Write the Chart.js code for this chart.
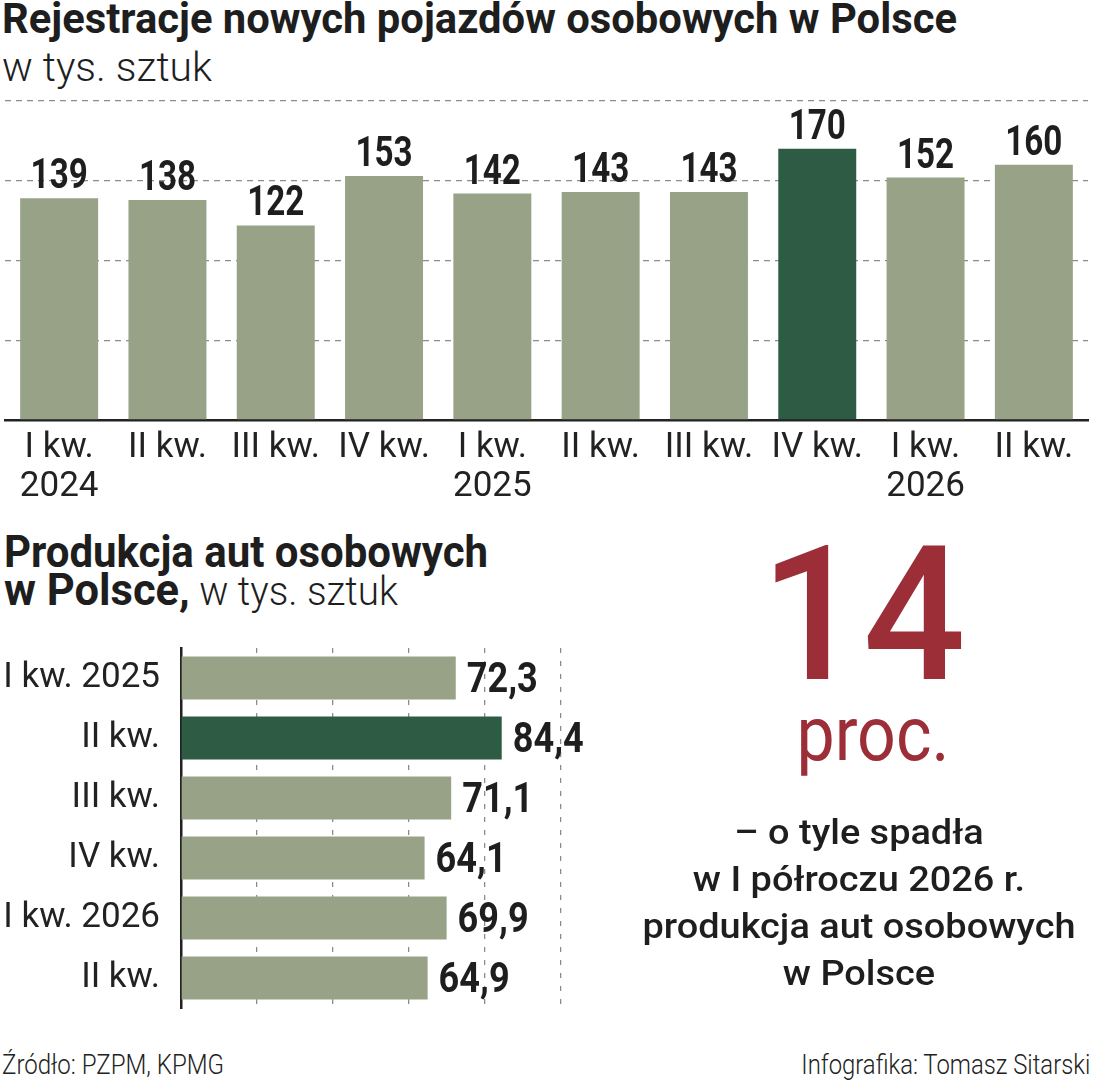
<!DOCTYPE html>
<html lang="pl">
<head>
<meta charset="utf-8">
<title>Rejestracje i produkcja aut osobowych w Polsce</title>
<script src="https://cdn.jsdelivr.net/npm/chart.js@4.4.1/dist/chart.umd.min.js"></script>
<style>
  html, body { margin: 0; padding: 0; background: #fff; }
  body { width: 1094px; height: 1080px; position: relative; overflow: hidden;
         font-family: Roboto, "Noto Sans", sans-serif; color: #1e1e1e; }
  .t { position: absolute; white-space: nowrap; line-height: 1; }
  .fitL { transform-origin: left top; }
  .fitR { transform-origin: right top; }
  #title { left: 2px; top: -2px; font-size: 42px; font-weight: 700; }
  #sub { left: 2px; top: 48px; font-size: 40px; font-weight: 300; }
  #prod1 { left: 4px; top: 529px; font-size: 45px; font-weight: 700; }
  #prod2 { left: 4px; top: 567px; font-size: 45px; font-weight: 700; }
  #prod2 .light { font-size: 40px; font-weight: 300; }
  #big { left: 863px; top: 522px; font-size: 187px; font-weight: 500; color: #9c2e37; }
  #proc { left: 873px; top: 696px; font-size: 76px; font-weight: 400; color: #9c2e37; }
  #note { position: absolute; left: 559px; top: 809px; width: 600px; text-align: center;
          font-size: 35px; font-weight: 500; line-height: 47px; transform-origin: 300px 0; }
  #note span { display: inline-block; white-space: nowrap; }
  #src { left: 2px; top: 1051px; font-size: 28px; font-weight: 300; color: #222; }
  #author { right: 4px; top: 1051px; font-size: 28px; font-weight: 300; color: #222; }
  #regBox { position: absolute; left: 0; top: 90px; }
  #prodBox { position: absolute; left: 0; top: 640px; }
</style>
</head>
<body>
<div class="t fitL" id="title">Rejestracje nowych pojazdów osobowych w Polsce</div>
<div class="t fitL" id="sub">w tys. sztuk</div>

<div id="regBox"><canvas id="regChart" width="1094" height="420"></canvas></div>

<div class="t fitL" id="prod1">Produkcja aut osobowych</div>
<div class="t fitL" id="prod2">w Polsce,<span class="light"> w tys. sztuk</span></div>

<div id="prodBox"><canvas id="prodChart" width="620" height="380"></canvas></div>

<div class="t" id="big">14</div>
<div class="t" id="proc">proc.</div>
<div id="note">
  <span>– o tyle spadła</span><br>
  <span>w I półroczu 2026 r.</span><br>
  <span id="longLine">produkcja aut osobowych</span><br>
  <span>w Polsce</span>
</div>

<div class="t fitL" id="src">Źródło: PZPM, KPMG</div>
<div class="t fitR" id="author">Infografika: Tomasz Sitarski</div>

<script>
// rejestracje, w tys. sztuk
const regLabels = [['I kw.', '2024'], 'II kw.', 'III kw.', 'IV kw.', ['I kw.', '2025'], 'II kw.', 'III kw.', 'IV kw.', ['I kw.', '2026'], 'II kw.'];
const regValues = [139, 138, 122, 153, 142, 143, 143, 170, 152, 160];
const regHighlight = 7;
const regTicks = [0, 50, 100, 150, 200];

// produkcja, w tys. sztuk
const prodLabels = ['I kw. 2025', 'II kw.', 'III kw.', 'IV kw.', 'I kw. 2026', 'II kw.'];
const prodValues = [72.3, 84.4, 71.1, 64.1, 69.9, 64.9];
const prodHighlight = 1;
const prodTicks = [0, 20, 40, 60, 80, 100];

const LIGHT = '#97a287';
const DARK = '#2d5b43';
const INK = '#1e1e1e';
const GRID = '#8c8c8c';

// value labels above / next to bars (narrowed bold digits)
const valueLabels = {
  id: 'valueLabels',
  afterDatasetsDraw(chart, args, opts) {
    const ctx = chart.ctx;
    const data = chart.data.datasets[0].data;
    const horiz = chart.options.indexAxis === 'y';
    ctx.save();
    ctx.fillStyle = INK;
    ctx.font = `700 ${opts.size}px Roboto`;
    ctx.textBaseline = 'alphabetic';
    chart.getDatasetMeta(0).data.forEach((bar, i) => {
      const txt = opts.format(data[i]);
      ctx.save();
      if (horiz) {
        ctx.translate(bar.x + opts.gap, bar.y + opts.size * 0.33);
        ctx.textAlign = 'left';
      } else {
        ctx.translate(bar.x, bar.y - opts.gap);
        ctx.textAlign = 'center';
      }
      ctx.scale(opts.squeeze, 1);
      ctx.fillText(txt, 0, 0);
      ctx.restore();
    });
    ctx.restore();
  }
};

Chart.defaults.font.family = 'Roboto';
Chart.defaults.color = INK;

function drawCharts() {
  new Chart(document.getElementById('regChart'), {
    type: 'bar',
    data: {
      labels: regLabels,
      datasets: [{
        data: regValues,
        backgroundColor: regValues.map((v, i) => i === regHighlight ? DARK : LIGHT),
        barPercentage: 0.72,
        categoryPercentage: 1
      }]
    },
    options: {
      responsive: false,
      animation: false,
      layout: { padding: { left: 5, right: 6, top: 11, bottom: 0 } },
      plugins: {
        legend: { display: false },
        tooltip: { enabled: false },
        valueLabels: { size: 42, gap: 10, squeeze: 0.79, format: v => String(v) }
      },
      scales: {
        x: {
          grid: { display: false },
          border: { display: true, color: '#222', width: 2.5 },
          ticks: { color: '#222', padding: 1, font: { size: 35, weight: 400, lineHeight: '39px' }, maxRotation: 0, autoSkip: false },
          afterFit: s => { s.height = 90; }
        },
        y: {
          min: 0, max: 200,
          afterBuildTicks: s => { s.ticks = regTicks.map(v => ({ value: v })); },
          ticks: { display: false },
          grid: { drawTicks: false, lineWidth: 1.3, color: c => c.tick && c.tick.value === 0 ? 'rgba(0,0,0,0)' : GRID },
          border: { display: false, dash: [6, 5] },
          afterFit: s => { s.width = 0; s.paddingTop = 0; s.paddingBottom = 0; }
        }
      }
    },
    plugins: [valueLabels]
  });

  new Chart(document.getElementById('prodChart'), {
    type: 'bar',
    data: {
      labels: prodLabels,
      datasets: [{
        data: prodValues,
        backgroundColor: prodValues.map((v, i) => i === prodHighlight ? DARK : LIGHT),
        barPercentage: 0.717,
        categoryPercentage: 1
      }]
    },
    options: {
      indexAxis: 'y',
      responsive: false,
      animation: false,
      layout: { padding: { left: 0, right: 59, top: 8, bottom: 12 } },
      plugins: {
        legend: { display: false },
        tooltip: { enabled: false },
        valueLabels: { size: 43, gap: 11, squeeze: 0.84, format: v => v.toFixed(1).replace('.', ',') }
      },
      scales: {
        x: {
          min: 0, max: 100,
          afterBuildTicks: s => { s.ticks = prodTicks.map(v => ({ value: v })); },
          ticks: { display: false },
          grid: { drawTicks: false, lineWidth: 1.3, color: c => c.tick && c.tick.value === 0 ? 'rgba(0,0,0,0)' : GRID },
          border: { display: false, dash: [5, 8] },
          afterFit: s => { s.height = 0; s.paddingLeft = 0; s.paddingRight = 0; }
        },
        y: {
          grid: { display: false },
          border: { display: true, color: '#222', width: 2.5 },
          ticks: { color: '#222', padding: 13, font: { size: 35, weight: 400 }, autoSkip: false },
          afterFit: s => { s.width = 181; s.paddingTop = 0; s.paddingBottom = 0; }
        }
      }
    },
    plugins: [valueLabels]
  });
}

// squeeze headline texts to the widths they take in the print layout
function fit(id, target, extra) {
  const el = document.getElementById(id);
  const w = el.getBoundingClientRect().width;
  el.style.transform = (extra || '') + ` scaleX(${(target / w).toFixed(4)})`;
}

function layoutText() {
  fit('title', 955);
  fit('sub', 210);
  fit('prod1', 484);
  fit('prod2', 394);
  fit('src', 222);
  fit('author', 289);
  fit('big', 205, 'translateX(-50%)');
  fit('proc', 153, 'translateX(-50%)');
  const line = document.getElementById('longLine').getBoundingClientRect().width;
  document.getElementById('note').style.transform = `scaleX(${(433 / line).toFixed(4)})`;
}

document.fonts.ready.then(() => {
  layoutText();
  drawCharts();
});
</script>
</body>
</html>
